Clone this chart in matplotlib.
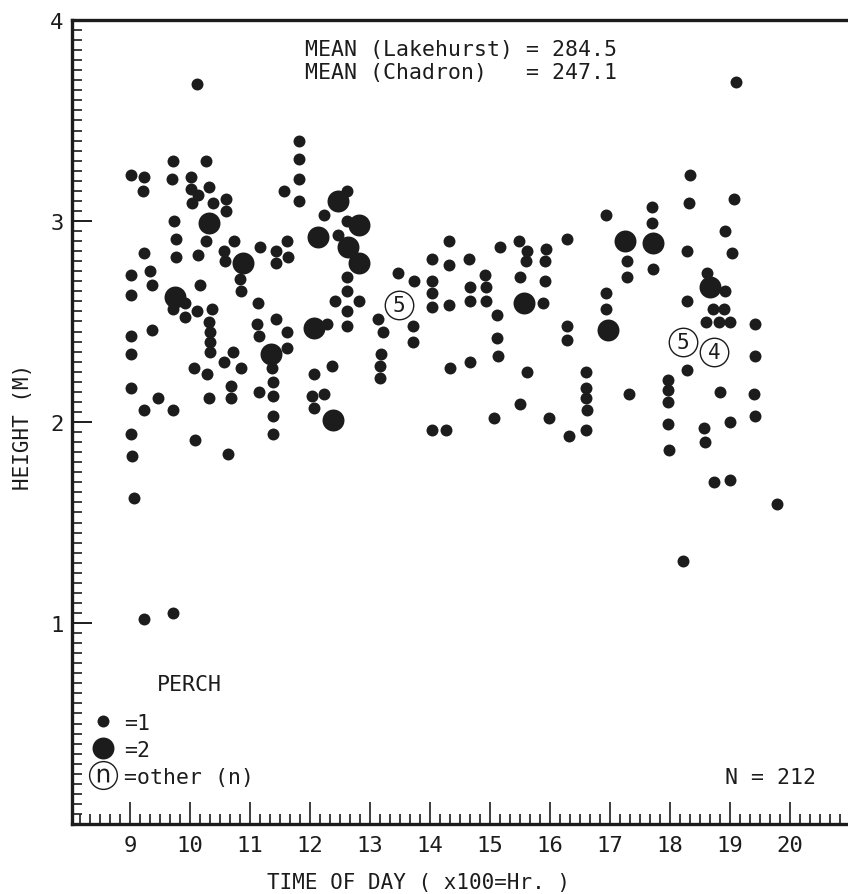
import matplotlib
matplotlib.use('Agg')
import matplotlib.pyplot as plt
from matplotlib.ticker import MultipleLocator, FixedLocator
from matplotlib.lines import Line2D

plt.rcParams['font.family'] = ['DejaVu Sans Mono']

# perch = 1 observations (hour, height m)
one_x = [9.01, 9.01, 9.02, 9.01, 9.01, 9.01, 9.02, 9.03, 9.06,
         9.23, 9.21, 9.23, 9.34, 9.36, 9.36, 9.46, 9.24, 9.23,
         9.71, 9.70, 9.74, 9.76, 9.76, 9.72, 9.92, 9.91, 9.72, 9.71,
         10.12, 10.27, 10.02, 10.02, 10.14, 10.32, 10.03, 10.39, 10.60, 10.60,
         10.27, 10.14, 10.17, 10.11, 10.36, 10.32, 10.33, 10.34, 10.33,
         10.07, 10.29, 10.31, 10.08,
         10.73, 10.57, 10.58, 10.83, 10.85, 10.56, 10.71, 10.85, 10.69, 10.69, 10.64,
         11.17, 11.43, 11.62, 11.64, 11.43, 11.14, 11.11, 11.15, 11.44, 11.62,
         11.62, 11.37, 11.39, 11.39, 11.15, 11.39, 11.39, 11.56,
         11.82, 11.81, 11.81, 11.81,
         12.23, 12.61, 12.61, 12.47, 12.61, 12.61, 12.42, 12.82, 12.61, 12.61,
         12.28, 12.37, 12.06, 12.03, 12.24, 12.07,
         13.47, 13.74, 13.14, 13.21, 13.71, 13.71, 13.18, 13.17, 13.17,
         14.03, 14.03, 14.03, 14.03, 14.32, 14.31, 14.32, 14.65, 14.66, 14.67,
         14.92, 14.93, 14.93, 15.17, 15.11, 15.11, 15.13, 14.34, 14.66, 14.03,
         14.27, 15.07,
         15.50, 15.62, 15.99, 15.48, 15.62, 15.60, 15.93, 15.92, 15.50, 15.91,
         15.88, 16.29, 16.29, 16.29, 16.31,
         16.60, 16.60, 16.60, 16.61, 16.60,
         16.94, 16.93, 16.93, 17.70, 17.70, 17.71, 17.28, 17.29, 17.32,
         17.97, 17.97, 17.97, 17.96, 17.99,
         18.33, 18.31, 19.07, 18.92, 19.04, 18.29, 18.28, 18.62, 18.91, 18.71,
         18.90, 18.60, 18.81, 19.00, 19.41, 19.41, 18.28, 18.83, 19.40, 19.42,
         19.00, 18.57, 18.59, 18.74, 19.00, 19.78, 18.21, 19.10]
one_y = [3.23, 2.73, 2.63, 2.43, 2.34, 2.17, 1.94, 1.83, 1.62,
         3.22, 3.15, 2.84, 2.75, 2.68, 2.46, 2.12, 2.06, 1.02,
         3.30, 3.21, 3.00, 2.91, 2.82, 2.56, 2.59, 2.52, 2.06, 1.05,
         3.68, 3.30, 3.22, 3.16, 3.13, 3.17, 3.09, 3.09, 3.11, 3.05,
         2.90, 2.83, 2.68, 2.55, 2.56, 2.50, 2.45, 2.40, 2.35,
         2.27, 2.24, 2.12, 1.91,
         2.90, 2.85, 2.80, 2.71, 2.65, 2.30, 2.35, 2.27, 2.18, 2.12, 1.84,
         2.87, 2.85, 2.90, 2.82, 2.79, 2.59, 2.49, 2.43, 2.51, 2.45,
         2.37, 2.27, 2.20, 2.13, 2.15, 2.03, 1.94, 3.15,
         3.40, 3.31, 3.21, 3.10,
         3.03, 3.15, 3.00, 2.93, 2.72, 2.65, 2.60, 2.60, 2.55, 2.48,
         2.49, 2.28, 2.24, 2.13, 2.14, 2.07,
         2.74, 2.70, 2.51, 2.45, 2.48, 2.40, 2.34, 2.28, 2.22,
         2.81, 2.70, 2.64, 2.57, 2.90, 2.78, 2.58, 2.81, 2.67, 2.60,
         2.73, 2.67, 2.60, 2.87, 2.53, 2.42, 2.33, 2.27, 2.30, 1.96,
         1.96, 2.02,
         2.09, 2.25, 2.02, 2.90, 2.85, 2.80, 2.86, 2.80, 2.72, 2.70,
         2.59, 2.91, 2.48, 2.41, 1.93,
         2.25, 2.17, 2.12, 2.06, 1.96,
         3.03, 2.64, 2.56, 3.07, 2.99, 2.76, 2.80, 2.72, 2.14,
         2.21, 2.16, 2.10, 1.99, 1.86,
         3.23, 3.09, 3.11, 2.95, 2.84, 2.85, 2.60, 2.74, 2.65, 2.56,
         2.56, 2.50, 2.50, 2.50, 2.49, 2.33, 2.26, 2.15, 2.14, 2.03,
         2.00, 1.97, 1.90, 1.70, 1.71, 1.59, 1.31, 3.69]

# perch = 2 observations
two_x = [10.32, 9.75, 10.88, 11.35, 12.13, 12.47, 12.82, 12.64, 12.82,
         12.07, 12.38, 15.56, 17.25, 17.72, 16.97, 18.67]
two_y = [2.99, 2.62, 2.79, 2.34, 2.92, 3.10, 2.98, 2.87, 2.79,
         2.47, 2.01, 2.59, 2.90, 2.89, 2.46, 2.67]

# other perch counts
other_x = [13.48, 18.21, 18.74]
other_y = [2.58, 2.40, 2.35]
other_n = [5, 5, 4]

mean_lakehurst = 284.5
mean_chadron = 247.1
n_total = 212

ink = '#1c1c1c'

fig = plt.figure(figsize=(8.48, 8.95), dpi=100)
ax = fig.add_axes([72 / 848, 1 - 825 / 895, 1 - 72 / 848, (825 - 21) / 895])

ax.scatter(one_x, one_y, s=74, color=ink, linewidths=0, zorder=3)
ax.scatter(two_x, two_y, s=250, color=ink, linewidths=0, zorder=3)
ax.scatter(other_x, other_y, s=420, facecolors='white', edgecolors=ink,
           linewidths=1.0, zorder=4)
for x, y, n in zip(other_x, other_y, other_n):
    ax.text(x, y, str(n), ha='center', va='center', fontsize=15,
            color=ink, zorder=5)

ax.set_xlim(8 + 2 / 60, 8 + 778 / 60)
ax.set_ylim(0, 4)

ax.xaxis.set_major_locator(MultipleLocator(1))
ax.xaxis.set_minor_locator(MultipleLocator(1 / 6))
ax.yaxis.set_major_locator(FixedLocator([1, 2, 3, 4]))
ax.yaxis.set_minor_locator(MultipleLocator(0.05))

ax.tick_params(which='both', direction='in', colors=ink, labelsize=16)
ax.tick_params(axis='x', which='major', length=15.5, width=1.2, pad=8)
ax.tick_params(axis='y', which='major', length=14.5, width=1.4, pad=6)
ax.tick_params(which='minor', length=7.5, width=1.2)

for side in ['left', 'bottom', 'top']:
    ax.spines[side].set_linewidth(2.4)
    ax.spines[side].set_color(ink)
ax.spines['right'].set_visible(False)

ax.set_xlabel('TIME OF DAY ( x100=Hr. )', fontsize=15, color=ink)
ax.xaxis.set_label_coords(0.447, -0.06)
ax.set_ylabel('HEIGHT (M)', fontsize=15, color=ink)
ax.yaxis.set_label_coords(-0.05, 0.495)

ax.text(0.300, 0.9496,
        'MEAN (Lakehurst) = %.1f\nMEAN (Chadron)   = %.1f' % (mean_lakehurst, mean_chadron),
        transform=ax.transAxes, ha='left', va='center', fontsize=15.5,
        color=ink, linespacing=1.15)
ax.text(0.8415, 0.0585, 'N = %d' % n_total, transform=ax.transAxes,
        ha='left', va='center', fontsize=15.5, color=ink)
ax.text(0.1095, 0.174, 'PERCH', transform=ax.transAxes, ha='left',
        va='center', fontsize=15.5, color=ink)

h1 = Line2D([], [], ls='', marker='o', ms=8.6, color=ink, mew=0)
h2 = Line2D([], [], ls='', marker='o', ms=15.8, color=ink, mew=0)
h3a = Line2D([], [], ls='', marker='o', ms=20, mfc='white', mec=ink, mew=1.0)
h3b = Line2D([], [], ls='', marker=r'$\mathrm{n}$', ms=10, color=ink, mew=0)
ax.legend([h1, h2, (h3a, h3b)], ['=1', '=2', '=other (n)'],
          loc='lower left', bbox_to_anchor=(0.02, 0.046), frameon=False,
          fontsize=15.5, handlelength=1.4, handletextpad=0.3,
          labelspacing=0.33, borderpad=0, borderaxespad=0,
          labelcolor=ink)

fig.savefig('out.png', dpi=100)
